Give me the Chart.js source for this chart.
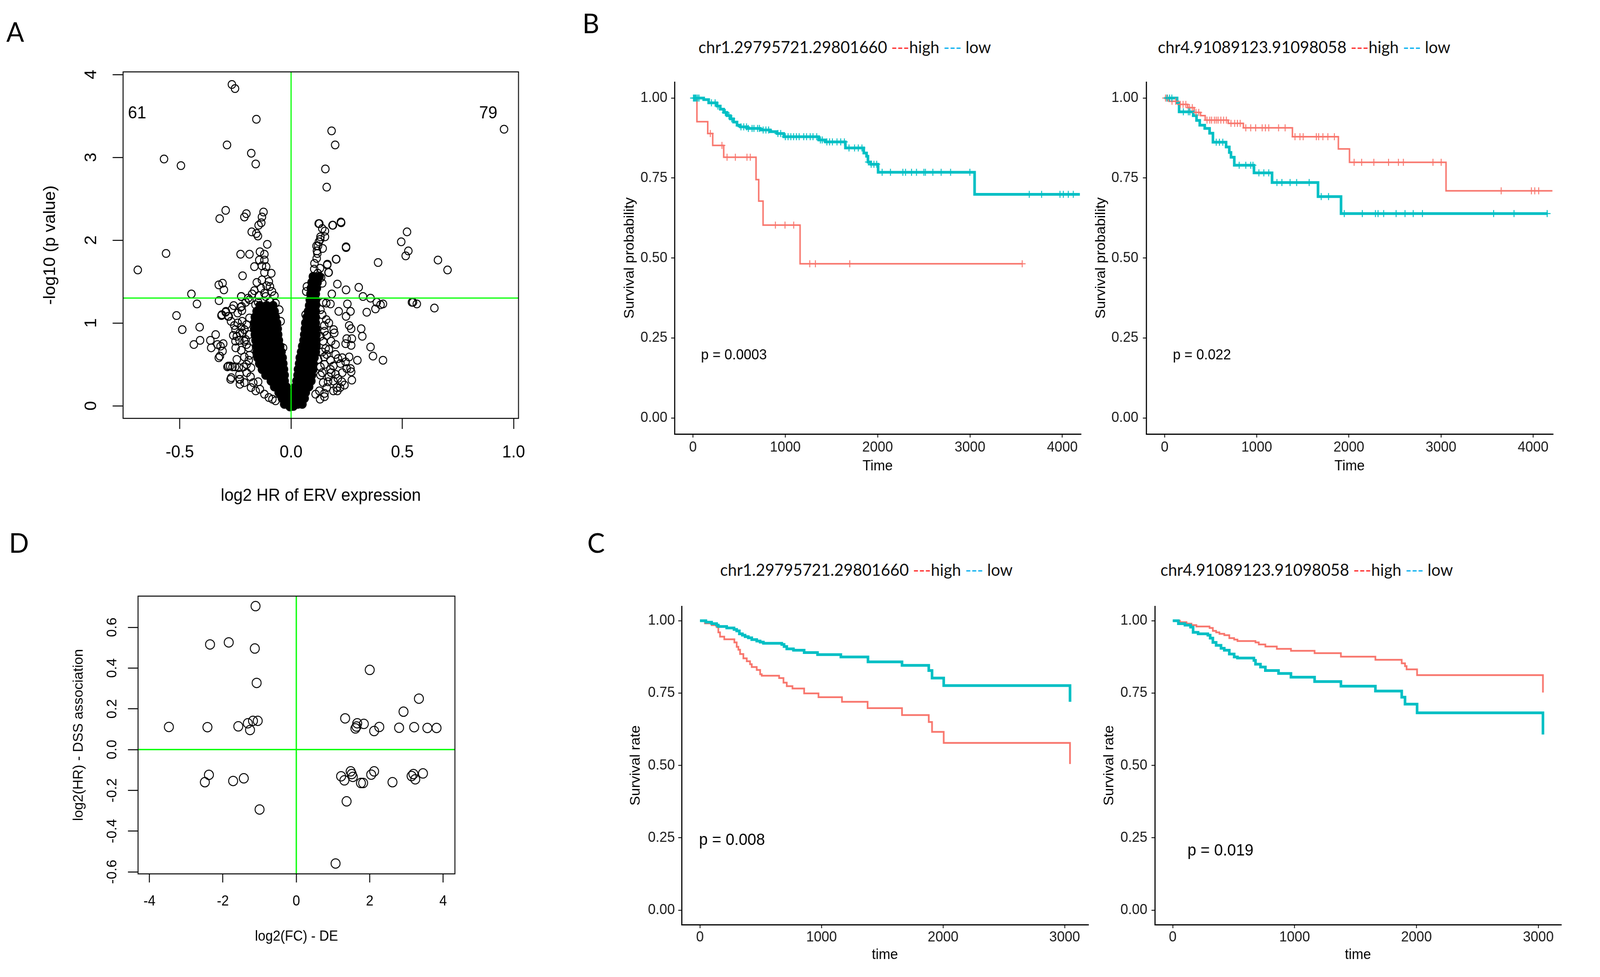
<!DOCTYPE html>
<html>
<head>
<meta charset="utf-8">
<script src="https://cdn.jsdelivr.net/npm/chart.js@4.4.1/dist/chart.umd.min.js"></script>
<style>
  html, body { margin: 0; padding: 0; background: #fff; overflow: hidden; }
  #page { position: absolute; left: 0; top: 0; width: 4277px; height: 2501px; transform-origin: 0 0; background: #fff; }
  canvas { position: absolute; display: block; }
  .tag { position: absolute; font-family: Lato, "Open Sans", sans-serif; font-size: 70px; line-height: 1; color: #000; }
  .kmtitle { position: absolute; font-family: Lato, "Open Sans", sans-serif; font-size: 43px; line-height: 1; white-space: nowrap; color: #111; }
  .kmtitle .hi { color: #ff2a2a; }
  .kmtitle .lo { color: #00b0f0; }
</style>
</head>
<body>
<div id="page">
<div class="tag" style="left:17px;top:45px">A</div>
<div class="tag" style="left:1557px;top:23px">B</div>
<div class="tag" style="left:1570px;top:1353px">C</div>
<div class="tag" style="left:24px;top:1353px">D</div>

<div class="kmtitle" style="left:1867px;top:98px">chr1.29795721.29801660 <span class="hi">---</span>high <span class="lo">---</span> low</div>
<div class="kmtitle" style="left:3095px;top:98px">chr4.91089123.91098058 <span class="hi">---</span>high <span class="lo">---</span> low</div>
<div class="kmtitle" style="left:1925px;top:1436px">chr1.29795721.29801660 <span class="hi">---</span>high <span class="lo">---</span> low</div>
<div class="kmtitle" style="left:3102px;top:1436px">chr4.91089123.91098058 <span class="hi">---</span>high <span class="lo">---</span> low</div>

<canvas id="chartA"></canvas>
<canvas id="chartD"></canvas>
<canvas id="chartB1"></canvas>
<canvas id="chartB2"></canvas>
<canvas id="chartC1"></canvas>
<canvas id="chartC2"></canvas>
</div>

<script>
// ---------- A: volcano, log2 HR vs -log10 p ----------
// dense core of the V (drawn filled, it is solid black in the picture)
const volcanoCore = [
  [-0.005,-0.01],[0.01,-0.005],
  [-0.03,0.02],[-0.01,0.02],[0.01,0.02],[0.03,0.02],[0.05,0.02],
  [-0.04,0.09],[-0.02,0.09],[0,0.09],[0.02,0.09],[0.04,0.09],[0.06,0.09],
  [-0.055,0.16],[-0.035,0.16],[-0.015,0.16],[0.005,0.16],[0.025,0.16],[0.045,0.16],[0.065,0.16],
  [-0.075,0.23],[-0.055,0.23],[-0.035,0.23],[-0.022,0.23],[0.02,0.23],[0.04,0.23],[0.06,0.23],[0.08,0.23],
  [-0.09,0.30],[-0.07,0.30],[-0.05,0.30],[-0.03,0.30],[0.025,0.30],[0.045,0.30],[0.065,0.30],[0.09,0.30],
  [-0.114,0.37],[-0.094,0.37],[-0.074,0.37],[-0.054,0.37],[-0.03,0.37],[0.03,0.37],[0.05,0.37],[0.07,0.37],[0.093,0.37],
  [-0.13,0.44],[-0.11,0.44],[-0.09,0.44],[-0.07,0.44],[-0.05,0.44],[-0.033,0.44],[0.032,0.44],[0.055,0.44],[0.077,0.44],[0.099,0.44],
  [-0.142,0.51],[-0.12,0.51],[-0.1,0.51],[-0.08,0.51],[-0.058,0.51],[-0.036,0.51],[0.037,0.51],[0.06,0.51],[0.08,0.51],[0.1,0.51],
  [-0.15,0.58],[-0.13,0.58],[-0.11,0.58],[-0.09,0.58],[-0.07,0.58],[-0.05,0.58],[-0.039,0.58],[0.04,0.58],[0.062,0.58],[0.083,0.58],[0.104,0.58],
  [-0.154,0.65],[-0.132,0.65],[-0.11,0.65],[-0.088,0.65],[-0.066,0.65],[-0.044,0.65],[0.046,0.65],[0.068,0.65],[0.09,0.65],[0.11,0.65],
  [-0.156,0.72],[-0.135,0.72],[-0.114,0.72],[-0.093,0.72],[-0.072,0.72],[-0.05,0.72],[0.051,0.72],[0.072,0.72],[0.092,0.72],[0.113,0.72],
  [-0.159,0.79],[-0.138,0.79],[-0.117,0.79],[-0.096,0.79],[-0.076,0.79],[-0.056,0.79],[0.057,0.79],[0.076,0.79],[0.095,0.79],[0.113,0.79],
  [-0.162,0.86],[-0.141,0.86],[-0.12,0.86],[-0.1,0.86],[-0.08,0.86],[-0.059,0.86],[0.06,0.86],[0.078,0.86],[0.096,0.86],[0.113,0.86],
  [-0.165,0.93],[-0.144,0.93],[-0.123,0.93],[-0.102,0.93],[-0.082,0.93],[-0.061,0.93],[0.063,0.93],[0.08,0.93],[0.097,0.93],[0.113,0.93],
  [-0.165,1.00],[-0.145,1.00],[-0.125,1.00],[-0.105,1.00],[-0.085,1.00],[-0.064,1.00],[0.065,1.00],[0.08,1.00],[0.095,1.00],[0.11,1.00],
  [-0.162,1.07],[-0.14,1.07],[-0.118,1.07],[-0.094,1.07],[-0.07,1.07],[0.071,1.07],[0.09,1.07],[0.11,1.07],
  [-0.154,1.14],[-0.128,1.14],[-0.1,1.14],[-0.075,1.14],[0.077,1.14],[0.094,1.14],[0.11,1.14],
  [-0.14,1.21],[-0.11,1.21],[-0.081,1.21],[0.082,1.21],[0.11,1.21],
  [0.085,1.28],[0.11,1.28],[0.088,1.35],[0.11,1.35],[0.09,1.42],[0.115,1.42],
  [0.093,1.49],[0.118,1.49],[0.099,1.56],[0.127,1.56]
];

// single ERVs (open circles)
const volcanoPoints = [
  [-0.266,3.88],[-0.252,3.83],[-0.156,3.46],[-0.288,3.15],[-0.571,2.98],[-0.495,2.90],[-0.179,3.05],[-0.159,2.92],
  [0.182,3.32],[0.198,3.15],[0.154,2.86],[0.160,2.64],[0.957,3.34],
  [-0.294,2.36],[-0.321,2.26],[-0.201,2.32],[-0.210,2.28],[-0.124,2.34],[-0.131,2.28],[-0.134,2.21],[-0.146,2.18],
  [-0.177,2.10],[-0.156,2.08],[-0.149,2.05],[-0.107,1.95],
  [0.124,2.20],[0.188,2.18],[0.224,2.22],[0.140,2.14],[0.152,2.04],[0.131,2.01],[0.247,1.92],[0.114,1.93],[0.142,1.90],
  [0.202,1.77],[0.162,1.70],[0.168,1.61],
  [0.521,2.10],[0.495,1.98],[0.527,1.87],[0.515,1.81],[0.391,1.73],[0.660,1.76],[0.703,1.64],
  [-0.562,1.84],[-0.689,1.64],[0.543,1.25],[0.565,1.23],[0.644,1.18],
  [-0.448,1.35],[-0.423,1.23],[-0.515,1.09],[-0.489,0.92],[-0.411,0.95],[-0.325,1.46],[-0.308,1.48],[-0.302,1.40],[-0.324,1.27],
  [-0.339,0.86],[-0.363,0.79],[-0.409,0.79],[-0.437,0.74],[-0.359,0.70],[-0.331,0.74],[-0.320,0.60],[-0.317,0.72],[-0.325,0.58],
  [-0.293,1.14],[-0.313,1.09],[-0.283,1.08],[-0.224,1.32],[-0.222,1.20],
  [-0.282,0.48],[-0.269,0.34],[-0.263,0.47],[-0.235,0.46],[-0.230,0.32],[-0.159,0.18],
  [-0.227,1.83],[-0.187,1.83],[-0.140,1.86],[-0.120,1.83],[-0.143,1.76],[-0.120,1.76],[-0.165,1.68],[-0.131,1.69],[-0.112,1.68],
  [-0.218,1.57],[-0.089,1.60],[-0.120,1.61],[-0.154,1.49],[-0.131,1.52],[-0.095,1.44],[-0.165,1.39],[-0.224,1.32],[-0.193,1.30],
  [-0.086,1.38],[-0.187,1.28],[-0.148,1.25],[-0.114,1.32],[-0.227,1.19],[-0.204,1.25],[-0.075,1.33],[-0.070,1.24],[-0.053,1.16],
  [-0.047,1.02],[-0.036,0.70],[-0.10,1.50],[-0.11,1.45],[-0.135,1.42],[-0.12,1.36],[-0.145,1.33],[-0.175,1.35],[-0.16,1.22],[-0.095,1.26],
  [0.127,2.20],[0.186,2.18],[0.225,2.21],[0.152,2.11],[0.132,2.04],[0.121,1.93],[0.116,1.87],[0.247,1.91],[0.203,1.77],[0.163,1.71],
  [0.169,1.61],[0.104,1.65],[0.105,1.72],[0.115,1.78],[0.118,1.84],[0.125,1.98],[0.130,1.66],[0.12,1.60],[0.135,1.55],[0.14,1.48],
  [0.208,1.47],[0.247,1.40],[0.304,1.43],[0.183,1.35],[0.068,1.38],[0.323,1.32],[0.357,1.30],[0.385,1.25],[0.413,1.23],[0.402,1.22],
  [0.379,1.17],[0.340,1.13],[0.548,1.25],[0.253,1.23],[0.177,1.23],[0.158,1.24],[0.214,1.14],[0.267,1.14],[0.247,1.08],[0.158,1.04],
  [0.261,0.97],[0.270,0.93],[0.315,0.93],[0.320,0.84],[0.191,0.92],[0.194,0.88],[0.149,0.97],[0.250,0.81],[0.273,0.81],[0.245,0.75],
  [0.270,0.73],[0.200,0.74],[0.357,0.71],[0.368,0.60],[0.413,0.55],[0.298,0.55],[0.261,0.59],[0.155,0.69],[0.149,0.59],[0.177,0.55],
  [0.211,0.57],[0.222,0.51],[0.245,0.53],[0.267,0.45],[0.270,0.41],[0.273,0.31],[0.228,0.29],[0.205,0.22],[0.208,0.18],[0.166,0.29],
  [0.177,0.44],[0.132,0.47],[0.132,0.37],[0.144,0.28],[0.127,0.18],[0.110,0.14],[0.121,0.56],[0.132,0.84],[0.144,0.78],[0.132,1.16],
  [0.144,1.25],[0.071,1.44],[0.065,1.10],
  [0.15,0.15],[0.16,0.22],[0.17,0.35],[0.18,0.40],[0.19,0.30],[0.14,0.40],[0.15,0.50],[0.19,0.48],[0.20,0.38],[0.21,0.33],
  [0.16,0.62],[0.17,0.68],[0.18,0.78],[0.16,0.85],[0.20,0.62],[0.23,0.40],[0.24,0.25],[0.22,0.22],[0.14,0.65],[0.15,0.90],
  [0.17,1.00],[0.14,1.10],[0.15,0.11],[0.13,0.08],[0.19,0.18],[0.23,0.58],[0.25,0.45],
  [-0.258,1.21],[-0.294,1.13],[-0.280,1.08],[-0.311,1.10],[-0.221,1.15],[-0.255,0.97],[-0.224,0.95],[-0.244,0.84],[-0.232,0.79],
  [-0.218,0.88],[-0.305,0.75],[-0.308,0.66],[-0.249,0.70],[-0.224,0.67],[-0.210,0.59],[-0.244,0.56],[-0.274,0.48],[-0.286,0.47],
  [-0.252,0.47],[-0.213,0.47],[-0.232,0.38],[-0.272,0.32],[-0.232,0.32],[-0.199,0.40],[-0.182,0.35],[-0.120,0.14],[-0.084,0.08],
  [-0.148,0.29],[-0.187,1.06],[-0.204,0.80],[-0.187,0.61],
  [-0.25,0.92],[-0.24,1.00],[-0.23,0.88],[-0.21,0.92],[-0.20,0.98],[-0.19,0.86],[-0.20,0.74],[-0.19,0.70],[-0.21,0.78],[-0.25,0.78],
  [-0.26,0.85],[-0.22,1.02],[-0.19,0.55],[-0.20,0.50],[-0.18,0.46],[-0.17,0.28],[-0.18,0.22],[-0.14,0.20],[-0.10,0.10],[-0.07,0.06],
  [-0.21,0.28],[-0.23,0.26],[-0.265,1.17],[-0.27,1.02],[-0.24,1.12]
];
const volcanoXTicks = [-0.5, 0, 0.5, 1];
const volcanoYTicks = [0, 1, 2, 3, 4];
const volcanoCounts = [["61", -0.692, 3.53], ["79", 0.886, 3.53]];
const pCutoff = 1.301;

// ---------- D: DE fold change vs DSS hazard ratio ----------
const deFC = [-1.11,-2.35,-1.84,-1.13,-1.08,-3.47,-2.42,-1.58,-1.32,-1.18,-1.05,-1.26,
  2.00,3.34,2.92,1.33,1.66,1.84,1.61,1.64,2.12,2.26,2.80,3.21,3.57,3.82,
  -2.49,-2.38,-1.72,-1.43,-1.00,
  1.22,1.31,1.48,1.51,1.54,1.37,1.76,1.82,2.04,2.12,2.62,3.14,3.19,3.24,3.45,1.07];
const dssHR = [0.704,0.516,0.526,0.496,0.327,0.111,0.110,0.114,0.129,0.141,0.141,0.096,
  0.391,0.25,0.186,0.153,0.129,0.126,0.104,0.113,0.091,0.111,0.107,0.110,0.106,0.106,
  -0.160,-0.124,-0.154,-0.141,-0.294,
  -0.131,-0.151,-0.107,-0.12,-0.134,-0.254,-0.164,-0.164,-0.123,-0.107,-0.16,-0.13,-0.12,-0.146,-0.117,-0.559];
const deXTicks = [-4, -2, 0, 2, 4];
const deYTicks = [-0.6, -0.4, -0.2, 0, 0.2, 0.4, 0.6];

// ---------- B: survival probability (with censor marks) ----------
const b1HighT = [0, 43, 160, 214, 333, 683, 712, 759, 1160, 3570];
const b1HighS = [1, 0.926, 0.889, 0.852, 0.815, 0.745, 0.678, 0.603, 0.482, 0.482];
const b1HighCens = [188, 314, 369, 459, 585, 621, 893, 997, 1091, 1265, 1326, 1698, 3566];
const b1LowT = [0, 116, 170, 260, 296, 332, 368, 405, 440, 477, 513, 585, 730, 838, 910, 983, 1362, 1434, 1651, 1850, 1880, 1895, 1925, 2005, 3050, 4190];
const b1LowS = [1, 0.995, 0.985, 0.975, 0.965, 0.955, 0.945, 0.935, 0.925, 0.915, 0.91, 0.905, 0.90, 0.895, 0.889, 0.879, 0.869, 0.863, 0.844, 0.828, 0.818, 0.80, 0.793, 0.768, 0.699, 0.699];
const b1LowCens = [5, 15, 25, 35, 50, 65, 200, 240, 270, 350, 390, 420, 520, 550, 580, 600, 640, 660, 700, 720, 760, 790, 820,
  920, 950, 1000, 1030, 1060, 1090, 1120, 1150, 1200, 1230, 1270, 1300, 1340, 1380, 1400, 1450, 1480, 1510, 1560, 1600, 1640,
  1690, 1750, 1790, 1830, 1900, 1930, 1960, 1990, 2049, 2139, 2273, 2302, 2367, 2421, 2501, 2518, 2598, 2688, 2790, 2999,
  3642, 3776, 3975, 4011, 4065, 4119];

const b2HighT = [0, 45, 150, 250, 320, 390, 440, 690, 855, 1387, 1886, 2007, 3055, 4210];
const b2HighS = [1, 0.99, 0.98, 0.97, 0.955, 0.945, 0.931, 0.921, 0.907, 0.879, 0.841, 0.799, 0.710, 0.710];
const b2HighCens = [10, 30, 80, 120, 170, 200, 230, 270, 300, 340, 370, 460, 490, 510, 540, 560, 580, 610, 640, 670, 720, 760, 790, 820,
  881, 934, 988, 1059, 1094, 1130, 1237, 1308, 1415, 1469, 1504, 1647, 1672, 1718, 1772, 1843,
  2057, 2139, 2271, 2431, 2538, 2592, 2913, 3002, 3654, 3982, 4018, 4061];
const b2LowT = [0, 135, 157, 310, 346, 381, 435, 488, 524, 667, 702, 720, 756, 970, 1166, 1665, 1915, 4160];
const b2LowS = [1, 0.985, 0.957, 0.945, 0.93, 0.915, 0.905, 0.89, 0.862, 0.847, 0.83, 0.815, 0.79, 0.766, 0.736, 0.692, 0.639, 0.639];
const b2LowCens = [25, 53, 78, 203, 257, 274, 560, 595, 631, 809, 881, 934, 959, 1023, 1077, 1130, 1219, 1273, 1362, 1433, 1569,
  1700, 1779, 1950, 2146, 2289, 2317, 2378, 2513, 2610, 2699, 2799, 3572, 3793, 4153];

// ---------- C: survival rate ----------
const c1HighT = [0, 41, 96, 137, 151, 165, 200, 283, 302, 316, 330, 357, 385, 412, 426, 467, 495, 508, 651, 687, 714, 761, 857, 975, 1168, 1379, 1662, 1882, 1909, 2005, 3044];
const c1HighS = [1, 0.991, 0.985, 0.978, 0.96, 0.945, 0.936, 0.925, 0.91, 0.90, 0.885, 0.87, 0.86, 0.85, 0.84, 0.83, 0.815, 0.81, 0.802, 0.786, 0.774, 0.766, 0.749, 0.736, 0.72, 0.698, 0.674, 0.65, 0.616, 0.578, 0.505];
const c1LowT = [0, 49, 96, 137, 151, 220, 280, 302, 324, 349, 371, 398, 426, 467, 495, 522, 673, 692, 714, 769, 857, 967, 1159, 1382, 1662, 1882, 1909, 2005, 3044];
const c1LowS = [1, 0.995, 0.99, 0.985, 0.98, 0.975, 0.97, 0.965, 0.955, 0.95, 0.945, 0.941, 0.935, 0.93, 0.926, 0.922, 0.918, 0.911, 0.903, 0.898, 0.89, 0.883, 0.875, 0.858, 0.846, 0.828, 0.802, 0.776, 0.72];

const c2HighT = [0, 59, 113, 154, 194, 302, 329, 356, 383, 423, 464, 504, 531, 679, 706, 760, 854, 970, 1164, 1380, 1663, 1879, 1906, 1919, 2005, 3038];
const c2HighS = [1, 0.995, 0.99, 0.985, 0.98, 0.975, 0.965, 0.96, 0.955, 0.95, 0.94, 0.935, 0.93, 0.925, 0.918, 0.911, 0.903, 0.896, 0.888, 0.876, 0.865, 0.853, 0.843, 0.832, 0.812, 0.752];
const c2LowT = [0, 46, 100, 146, 167, 208, 288, 307, 329, 356, 396, 423, 464, 504, 531, 666, 679, 720, 760, 868, 970, 1164, 1380, 1663, 1879, 1906, 2005, 3038];
const c2LowS = [1, 0.99, 0.985, 0.978, 0.96, 0.955, 0.95, 0.94, 0.925, 0.915, 0.905, 0.898, 0.885, 0.875, 0.871, 0.863, 0.85, 0.84, 0.828, 0.818, 0.805, 0.79, 0.774, 0.757, 0.736, 0.712, 0.682, 0.607];

const survYTicks = [0, 0.25, 0.5, 0.75, 1];
const bTimeTicks = [0, 1000, 2000, 3000, 4000];
const cTimeTicks = [0, 1000, 2000, 3000];

const RED = "#F8766D";
const TEAL = "#00BFC4";
const SANS = '"Liberation Sans", Arial, sans-serif';

// the window is narrower than 4277 css px, so squeeze the whole layout into it
const page = document.getElementById("page");
const fitX = window.innerWidth / 4277;
const fitY = window.innerHeight / 2501;
page.style.transform = "scale(" + fitX + "," + fitY + ")";
const DPR = (window.devicePixelRatio || 1) * Math.max(fitX, fitY);

// ---------- helpers ----------
const framePlugin = {
  id: "frame",
  afterDatasetsDraw(chart, args, opts) {
    if (!opts.show) return;
    const a = chart.chartArea;
    const ctx = chart.ctx;
    ctx.save();
    ctx.strokeStyle = "#000";
    ctx.lineWidth = opts.width || 2;
    ctx.strokeRect(a.left, a.top, a.right - a.left, a.bottom - a.top);
    ctx.restore();
  }
};

const notesPlugin = {
  id: "notes",
  afterDatasetsDraw(chart, args, opts) {
    const items = opts.items || [];
    const ctx = chart.ctx;
    const sx = chart.scales.x;
    const sy = chart.scales.y;
    items.forEach(n => {
      ctx.save();
      ctx.font = n.font;
      ctx.fillStyle = "#000";
      ctx.textAlign = n.align || "left";
      ctx.textBaseline = "middle";
      ctx.fillText(n.text, sx.getPixelForValue(n.x), sy.getPixelForValue(n.y));
      ctx.restore();
    });
  }
};

Chart.register(framePlugin, notesPlugin);

function placeCanvas(id, left, top, width, height) {
  const c = document.getElementById(id);
  c.width = width;
  c.height = height;
  c.style.left = left + "px";
  c.style.top = top + "px";
  c.style.width = width + "px";
  c.style.height = height + "px";
  return c;
}

function fixedTicks(values) {
  return scale => { scale.ticks = values.map(v => ({ value: v })); };
}

function toPoints(xs, ys) {
  return xs.map((x, i) => ({ x: x, y: ys[i] }));
}

function levelAt(times, surv, t) {
  let s = surv[0];
  for (let i = 0; i < times.length; i++) {
    if (times[i] <= t) s = surv[i];
  }
  return s;
}

function baseOptions(box) {
  return {
    responsive: false,
    animation: false,
    devicePixelRatio: DPR,
    events: [],
    layout: { padding: { top: box.padTop, right: box.padRight, left: 0, bottom: 0 } },
    plugins: { legend: { display: false }, tooltip: { enabled: false } }
  };
}

// ---------- panel A ----------
function drawVolcano() {
  const box = { left: 0, top: 0, w: 1440, h: 1330, yW: 329, xH: 259, padTop: 184, padRight: 54 };
  const c = placeCanvas("chartA", box.left, box.top, box.w, box.h);
  const opts = baseOptions(box);
  opts.plugins.frame = { show: true, width: 2.5 };
  opts.plugins.notes = {
    items: volcanoCounts.map(v => ({ text: v[0], x: v[1], y: v[2], align: "center", font: "44px " + SANS }))
  };
  opts.scales = {
    x: {
      type: "linear", min: -0.755, max: 1.022,
      afterBuildTicks: fixedTicks(volcanoXTicks),
      afterFit: s => { s.height = box.xH; },
      border: { display: false },
      grid: { drawOnChartArea: false, drawTicks: true, tickLength: 27, color: "#000", lineWidth: 2.5 },
      ticks: { font: { family: SANS, size: 44 }, color: "#000", padding: 34, maxRotation: 0, minRotation: 0,
               callback: v => Number(v).toFixed(1) },
      title: { display: true, text: "log2 HR of ERV expression", font: { family: SANS, size: 44 }, color: "#000",
               padding: { top: 0, bottom: 34 } }
    },
    y: {
      type: "linear", min: -0.152, max: 4.032,
      afterBuildTicks: fixedTicks(volcanoYTicks),
      afterFit: s => { s.width = box.yW; },
      border: { display: false },
      grid: { drawOnChartArea: false, drawTicks: true, tickLength: 28, color: "#000", lineWidth: 2.5 },
      ticks: { font: { family: SANS, size: 44 }, color: "#000", padding: 44, minRotation: 90, maxRotation: 90,
               crossAlign: "center", callback: v => String(v) },
      title: { display: true, text: "-log10 (p value)", font: { family: SANS, size: 44 }, color: "#000",
               padding: { top: 108, bottom: 0 } }
    }
  };
  new Chart(c, {
    type: "scatter",
    data: {
      datasets: [
        { data: [{ x: 0, y: -0.152 }, { x: 0, y: 4.032 }], showLine: true, borderColor: "#00ff00", borderWidth: 3, pointRadius: 0 },
        { data: [{ x: -0.755, y: pCutoff }, { x: 1.022, y: pCutoff }], showLine: true, borderColor: "#00ff00", borderWidth: 3, pointRadius: 0 },
        { data: volcanoPoints.map(p => ({ x: p[0], y: p[1] })), pointRadius: 10, pointBorderWidth: 2.5,
          pointBorderColor: "#000", pointBackgroundColor: "rgba(0,0,0,0)" },
        { data: volcanoCore.map(p => ({ x: p[0], y: p[1] })), pointRadius: 11, pointBorderWidth: 2,
          pointBorderColor: "#000", pointBackgroundColor: "#000" }
      ]
    },
    options: opts
  });
}

// ---------- panel D ----------
function drawDE() {
  const box = { left: 0, top: 1340, w: 1440, h: 1161, yW: 369, xH: 264, padTop: 186, padRight: 224 };
  const c = placeCanvas("chartD", box.left, box.top, box.w, box.h);
  const opts = baseOptions(box);
  opts.plugins.frame = { show: true, width: 2.5 };
  opts.scales = {
    x: {
      type: "linear", min: -4.31, max: 4.32,
      afterBuildTicks: fixedTicks(deXTicks),
      afterFit: s => { s.height = box.xH; },
      border: { display: false },
      grid: { drawOnChartArea: false, drawTicks: true, tickLength: 22, color: "#000", lineWidth: 2.5 },
      ticks: { font: { family: SANS, size: 36 }, color: "#000", padding: 27, maxRotation: 0, minRotation: 0,
               callback: v => String(v) },
      title: { display: true, text: "log2(FC) - DE", font: { family: SANS, size: 36 }, color: "#000",
               padding: { top: 0, bottom: 81 } }
    },
    y: {
      type: "linear", min: -0.61, max: 0.753,
      afterBuildTicks: fixedTicks(deYTicks),
      afterFit: s => { s.width = box.yW; },
      border: { display: false },
      grid: { drawOnChartArea: false, drawTicks: true, tickLength: 27, color: "#000", lineWidth: 2.5 },
      ticks: { font: { family: SANS, size: 36 }, color: "#000", padding: 10, minRotation: 90, maxRotation: 90,
               crossAlign: "center", callback: v => Number(v).toFixed(1) },
      title: { display: true, text: "log2(HR) - DSS association", font: { family: SANS, size: 36 }, color: "#000",
               padding: { top: 189, bottom: 0 } }
    }
  };
  new Chart(c, {
    type: "scatter",
    data: {
      datasets: [
        { data: [{ x: 0, y: -0.61 }, { x: 0, y: 0.753 }], showLine: true, borderColor: "#00ff00", borderWidth: 3.5, pointRadius: 0 },
        { data: [{ x: -4.31, y: 0 }, { x: 4.32, y: 0 }], showLine: true, borderColor: "#00ff00", borderWidth: 3.5, pointRadius: 0 },
        { data: toPoints(deFC, dssHR), pointRadius: 12, pointBorderWidth: 2.5,
          pointBorderColor: "#000", pointBackgroundColor: "rgba(0,0,0,0)" }
      ]
    },
    options: opts
  });
}

// ---------- panels B and C (Kaplan-Meier) ----------
function drawKM(cfg) {
  const box = cfg.box;
  const c = placeCanvas(cfg.id, box.left, box.top, box.w, box.h);
  const opts = baseOptions(box);
  opts.plugins.notes = { items: [{ text: cfg.pText, x: cfg.pAt[0], y: cfg.pAt[1], font: cfg.pFont }] };
  opts.scales = {
    x: {
      type: "linear", min: cfg.xMin, max: cfg.xMax,
      afterBuildTicks: fixedTicks(cfg.xTicks),
      afterFit: s => { s.height = box.xH; },
      border: { display: true, color: "#000", width: 3 },
      grid: { drawOnChartArea: false, drawTicks: true, tickLength: 9, color: "#222", lineWidth: 2.5 },
      ticks: { font: { family: SANS, size: 37 }, color: "#1a1a1a", padding: cfg.xTickPad, maxRotation: 0, minRotation: 0,
               callback: v => String(v) },
      title: { display: true, text: cfg.xTitle, font: { family: SANS, size: 37 }, color: "#000",
               padding: { top: 0, bottom: cfg.xTitlePad } }
    },
    y: {
      type: "linear", min: -0.05, max: 1.05,
      afterBuildTicks: fixedTicks(survYTicks),
      afterFit: s => { s.width = box.yW; },
      border: { display: true, color: "#000", width: 3 },
      grid: { drawOnChartArea: false, drawTicks: true, tickLength: 9, color: "#222", lineWidth: 2.5 },
      ticks: { font: { family: SANS, size: 37 }, color: "#1a1a1a", padding: cfg.yTickPad,
               callback: v => Number(v).toFixed(2) },
      title: { display: true, text: cfg.yTitle, font: { family: SANS, size: 37 }, color: "#000",
               padding: { top: cfg.yTitlePad, bottom: 0 } }
    }
  };

  const datasets = [];
  if (cfg.lowCens) {
    datasets.push({ data: cfg.lowCens.map(t => ({ x: t, y: levelAt(cfg.lowT, cfg.lowS, t) })),
      pointStyle: "cross", pointRadius: 9, pointBorderWidth: 2.5, pointBorderColor: TEAL });
    datasets.push({ data: cfg.highCens.map(t => ({ x: t, y: levelAt(cfg.highT, cfg.highS, t) })),
      pointStyle: "cross", pointRadius: 9, pointBorderWidth: 2.5, pointBorderColor: RED });
  }
  datasets.push({ data: toPoints(cfg.lowT, cfg.lowS), showLine: true, stepped: true, borderColor: TEAL,
    borderWidth: cfg.lowWidth, pointRadius: 0 });
  datasets.push({ data: toPoints(cfg.highT, cfg.highS), showLine: true, stepped: true, borderColor: RED,
    borderWidth: cfg.highWidth, pointRadius: 0 });

  new Chart(c, { type: "scatter", data: { datasets }, options: opts });
}

drawVolcano();
drawDE();

drawKM({
  id: "chartB1",
  box: { left: 1560, top: 150, w: 1390, h: 1110, yW: 243, xH: 149, padTop: 60, padRight: 61 },
  xMin: -200, xMax: 4200, xTicks: bTimeTicks,
  xTitle: "Time", yTitle: "Survival probability",
  xTickPad: 4, xTitlePad: 44, yTickPad: 10, yTitlePad: 102,
  highT: b1HighT, highS: b1HighS, highCens: b1HighCens,
  lowT: b1LowT, lowS: b1LowS, lowCens: b1LowCens,
  highWidth: 4, lowWidth: 7,
  pText: "p = 0.0003", pAt: [87, 0.196], pFont: "37px " + SANS
});

drawKM({
  id: "chartB2",
  box: { left: 2920, top: 150, w: 1357, h: 1110, yW: 144, xH: 149, padTop: 60, padRight: 126 },
  xMin: -200, xMax: 4215, xTicks: bTimeTicks,
  xTitle: "Time", yTitle: "Survival probability",
  xTickPad: 4, xTitlePad: 44, yTickPad: 12, yTitlePad: 2,
  highT: b2HighT, highS: b2HighS, highCens: b2HighCens,
  lowT: b2LowT, lowS: b2LowS, lowCens: b2LowCens,
  highWidth: 4, lowWidth: 7,
  pText: "p = 0.022", pAt: [89, 0.196], pFont: "37px " + SANS
});

drawKM({
  id: "chartC1",
  box: { left: 1560, top: 1500, w: 1390, h: 1001, yW: 262, xH: 134, padTop: 52, padRight: 41 },
  xMin: -151, xMax: 3194, xTicks: cTimeTicks,
  xTitle: "time", yTitle: "Survival rate",
  xTickPad: 2, xTitlePad: 34, yTickPad: 9, yTitlePad: 118,
  highT: c1HighT, highS: c1HighS, lowT: c1LowT, lowS: c1LowS,
  highWidth: 4.5, lowWidth: 7,
  pText: "p = 0.008", pAt: [-8, 0.241], pFont: "42px " + SANS
});

drawKM({
  id: "chartC2",
  box: { left: 2920, top: 1500, w: 1357, h: 1001, yW: 167, xH: 134, padTop: 52, padRight: 104 },
  xMin: -147, xMax: 3187, xTicks: cTimeTicks,
  xTitle: "time", yTitle: "Survival rate",
  xTickPad: 2, xTitlePad: 34, yTickPad: 11, yTitlePad: 24,
  highT: c2HighT, highS: c2HighS, lowT: c2LowT, lowS: c2LowS,
  highWidth: 4.5, lowWidth: 7,
  pText: "p = 0.019", pAt: [121, 0.204], pFont: "42px " + SANS
});
</script>
</body>
</html>
